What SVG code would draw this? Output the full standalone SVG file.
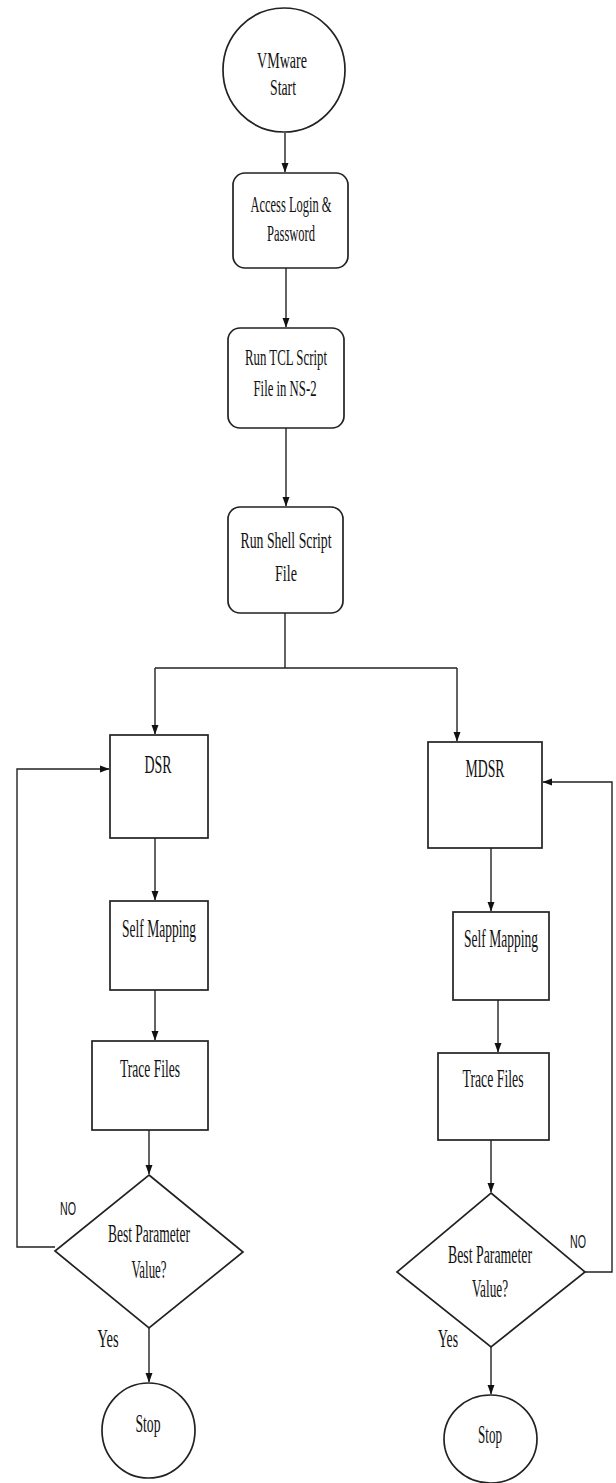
<svg xmlns="http://www.w3.org/2000/svg" width="616" height="1483" viewBox="0 0 616 1483">
<defs>
<marker id="arr" markerWidth="10" markerHeight="10" refX="9" refY="5" orient="auto" markerUnits="userSpaceOnUse">
<path d="M0,1.5 L9.5,5 L0,8.5 Z" fill="#111"/>
</marker>
<style>
.shape{fill:#fff;stroke:#222;stroke-width:1.7}
.con{fill:none;stroke:#222;stroke-width:1.4}
.t{font-family:"Liberation Serif","Times New Roman",serif;font-size:26px;fill:#111;text-anchor:middle}
.s{font-size:24px}
.no{font-family:"Liberation Sans",Arial,sans-serif;font-size:18px;fill:#111;text-anchor:middle}
</style>
</defs>
<rect width="616" height="1483" fill="#fff"/>
<g id="connectors">
<line class="con" x1="285" y1="133" x2="285" y2="172" marker-end="url(#arr)"/>
<line class="con" x1="286" y1="268" x2="286" y2="327" marker-end="url(#arr)"/>
<line class="con" x1="286" y1="428" x2="286" y2="506" marker-end="url(#arr)"/>
<polyline class="con" points="285,613 285,668"/>
<line class="con" x1="155" y1="668" x2="457" y2="668"/>
<line class="con" x1="155" y1="668" x2="155" y2="734" marker-end="url(#arr)"/>
<line class="con" x1="457" y1="668" x2="457" y2="741" marker-end="url(#arr)"/>
<line class="con" x1="155" y1="838" x2="155" y2="900" marker-end="url(#arr)"/>
<line class="con" x1="155" y1="990" x2="155" y2="1040" marker-end="url(#arr)"/>
<line class="con" x1="149" y1="1130" x2="149" y2="1174" marker-end="url(#arr)"/>
<path class="con" d="M55,1247 H17 V769 H109" marker-end="url(#arr)"/>
<line class="con" x1="149" y1="1328" x2="149" y2="1382" marker-end="url(#arr)"/>
<line class="con" x1="491" y1="848" x2="491" y2="911" marker-end="url(#arr)"/>
<line class="con" x1="498" y1="1000" x2="498" y2="1052" marker-end="url(#arr)"/>
<line class="con" x1="491" y1="1140" x2="491" y2="1192" marker-end="url(#arr)"/>
<path class="con" d="M585,1272 H612 V782 H543" marker-end="url(#arr)"/>
<line class="con" x1="491" y1="1347" x2="491" y2="1394" marker-end="url(#arr)"/>
</g>
<g id="start">
<ellipse class="shape" cx="284" cy="70" rx="61" ry="62"/>
<text class="t s" transform="translate(282,68) scale(0.55,1)" textLength="90.9" lengthAdjust="spacingAndGlyphs">VMware</text>
<text class="t s" transform="translate(283,95) scale(0.55,1)" textLength="47.3" lengthAdjust="spacingAndGlyphs">Start</text>
</g>
<g id="access">
<rect class="shape" x="233" y="173" width="115" height="95" rx="12"/>
<text class="t s" transform="translate(291,212) scale(0.55,1)" textLength="147.3" lengthAdjust="spacingAndGlyphs">Access Login &amp;</text>
<text class="t s" transform="translate(291,241) scale(0.55,1)" textLength="87.3" lengthAdjust="spacingAndGlyphs">Password</text>
</g>
<g id="tcl">
<rect class="shape" x="228" y="328" width="116" height="100" rx="12"/>
<text class="t s" transform="translate(286,365) scale(0.55,1)" textLength="149.1" lengthAdjust="spacingAndGlyphs">Run TCL Script</text>
<text class="t s" transform="translate(285,396) scale(0.55,1)" textLength="114.5" lengthAdjust="spacingAndGlyphs">File in NS-2</text>
</g>
<g id="shell">
<rect class="shape" x="228" y="507" width="115" height="106" rx="12"/>
<text class="t s" transform="translate(286,548) scale(0.55,1)" textLength="165.5" lengthAdjust="spacingAndGlyphs">Run Shell Script</text>
<text class="t s" transform="translate(286,581) scale(0.55,1)" textLength="40" lengthAdjust="spacingAndGlyphs">File</text>
</g>
<g id="dsr">
<rect class="shape" x="110" y="735" width="98" height="103"/>
<text class="t" transform="translate(158,773) scale(0.55,1)" textLength="49.1" lengthAdjust="spacingAndGlyphs">DSR</text>
</g>
<g id="selfmap-left">
<rect class="shape" x="110" y="901" width="98" height="89"/>
<text class="t" transform="translate(159,937) scale(0.55,1)" textLength="134.5" lengthAdjust="spacingAndGlyphs">Self Mapping</text>
</g>
<g id="trace-left">
<rect class="shape" x="92" y="1041" width="116" height="89"/>
<text class="t" transform="translate(150,1077) scale(0.55,1)" textLength="109.1" lengthAdjust="spacingAndGlyphs">Trace Files</text>
</g>
<g id="decision-left">
<polygon class="shape" points="149,1175 243,1252 149,1328 55,1251"/>
<text class="t" transform="translate(149,1242) scale(0.55,1)" textLength="149.1" lengthAdjust="spacingAndGlyphs">Best Parameter</text>
<text class="t" transform="translate(149,1278) scale(0.55,1)" textLength="63.6" lengthAdjust="spacingAndGlyphs">Value?</text>
<text class="no" transform="translate(68,1215) scale(0.6,1)" textLength="26.7" lengthAdjust="spacingAndGlyphs">NO</text>
<text class="t" transform="translate(108,1347) scale(0.55,1)" textLength="38.2" lengthAdjust="spacingAndGlyphs">Yes</text>
</g>
<g id="stop-left">
<ellipse class="shape" cx="148.5" cy="1430.5" rx="46.5" ry="47.5"/>
<text class="t" transform="translate(148,1432) scale(0.55,1)" textLength="45.5" lengthAdjust="spacingAndGlyphs">Stop</text>
</g>
<g id="mdsr">
<rect class="shape" x="428" y="742" width="114" height="106"/>
<text class="t" transform="translate(485,777) scale(0.55,1)" textLength="70.9" lengthAdjust="spacingAndGlyphs">MDSR</text>
</g>
<g id="selfmap-right">
<rect class="shape" x="453" y="912" width="96" height="88"/>
<text class="t" transform="translate(501,947) scale(0.55,1)" textLength="134.5" lengthAdjust="spacingAndGlyphs">Self Mapping</text>
</g>
<g id="trace-right">
<rect class="shape" x="438" y="1053" width="111" height="87"/>
<text class="t" transform="translate(493,1087) scale(0.55,1)" textLength="110.9" lengthAdjust="spacingAndGlyphs">Trace Files</text>
</g>
<g id="decision-right">
<polygon class="shape" points="491,1193 585,1272 491,1347 397,1272"/>
<text class="t" transform="translate(490,1263) scale(0.55,1)" textLength="152.7" lengthAdjust="spacingAndGlyphs">Best Parameter</text>
<text class="t" transform="translate(490,1297) scale(0.55,1)" textLength="65.5" lengthAdjust="spacingAndGlyphs">Value?</text>
<text class="no" transform="translate(578,1248) scale(0.6,1)" textLength="26.7" lengthAdjust="spacingAndGlyphs">NO</text>
<text class="t" transform="translate(448,1347) scale(0.55,1)" textLength="36.4" lengthAdjust="spacingAndGlyphs">Yes</text>
</g>
<g id="stop-right">
<ellipse class="shape" cx="490.5" cy="1439" rx="46.5" ry="44"/>
<text class="t" transform="translate(490,1443) scale(0.55,1)" textLength="43.6" lengthAdjust="spacingAndGlyphs">Stop</text>
</g>
</svg>
